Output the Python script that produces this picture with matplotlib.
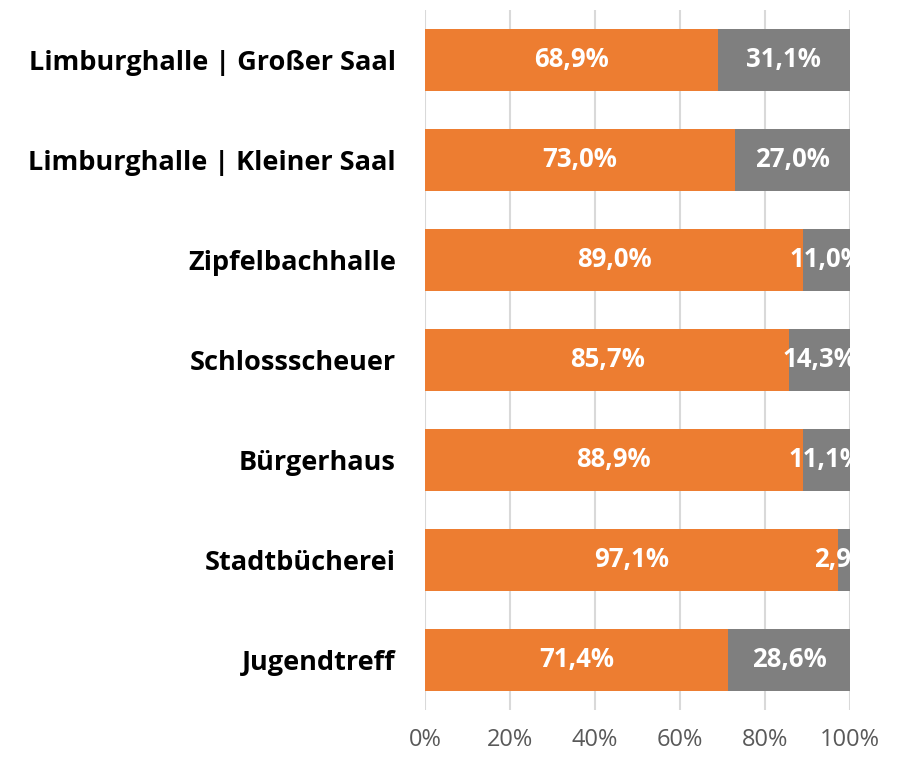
import matplotlib
matplotlib.use("Agg")
import matplotlib.pyplot as plt
import numpy as np

# --- data ---
venues = [
    "Limburghalle | Großer Saal",
    "Limburghalle | Kleiner Saal",
    "Zipfelbachhalle",
    "Schlossscheuer",
    "Bürgerhaus",
    "Stadtbücherei",
    "Jugendtreff",
]
share_a = [68.9, 73.0, 89.0, 85.7, 88.9, 97.1, 71.4]
share_b = [31.1, 27.0, 11.0, 14.3, 11.1, 2.9, 28.6]
xticks = [0, 20, 40, 60, 80, 100]

C_A = "#ED7D31"
C_B = "#7F7F7F"
C_GRID = "#D9D9D9"
C_TICK = "#595959"

plt.rcParams["font.family"] = ["Open Sans", "DejaVu Sans"]

fig = plt.figure(figsize=(9.03, 7.57), dpi=100)
ax = fig.add_axes([0.4707, 0.0621, 0.4706, 0.9247])

y = np.arange(len(venues))
ax.barh(y, share_a, height=0.62, color=C_A, zorder=2)
ax.barh(y, share_b, left=share_a, height=0.62, color=C_B, zorder=2)

fmt = lambda v: f"{v:.1f}%".replace(".", ",")
for yi, a, b in zip(y, share_a, share_b):
    ax.text(a / 2, yi, fmt(a), ha="center", va="center", color="white",
            fontsize=18.5, fontweight="bold", zorder=3, clip_on=True)
    ax.text(a + b / 2, yi, fmt(b), ha="center", va="center", color="white",
            fontsize=18.5, fontweight="bold", zorder=3, clip_on=True)

ax.set_xlim(0, 100)
ax.set_ylim(len(venues) - 0.5, -0.5)
ax.set_xticks(xticks)
ax.set_xticklabels([f"{t}%" for t in xticks], fontsize=17, color=C_TICK)
ax.set_yticks(y)
ax.set_yticklabels(venues, fontsize=19.5, fontweight="bold", color="black")
ax.tick_params(axis="both", length=0)
ax.tick_params(axis="x", pad=13)
ax.tick_params(axis="y", pad=21)
ax.xaxis.grid(True, color=C_GRID, linewidth=1.5, zorder=0)
ax.set_axisbelow(True)
for s in ax.spines.values():
    s.set_visible(False)

fig.savefig("out.png", dpi=100)
